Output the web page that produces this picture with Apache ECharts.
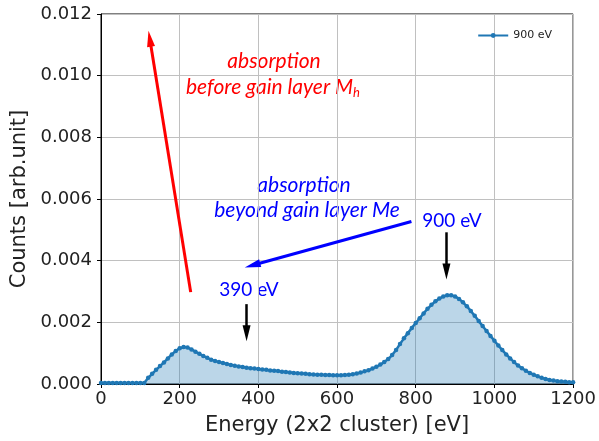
<!DOCTYPE html>
<html>
<head>
<meta charset="utf-8">
<script src="https://cdn.jsdelivr.net/npm/echarts@6/dist/echarts.min.js"></script>
<style>
  html, body { margin: 0; padding: 0; background: #fff; }
  #chart { width: 599px; height: 441px; }
</style>
</head>
<body>
<div id="chart"></div>
<script type="text/javascript">
    // energy bins [eV]
    var energies = [
        0, 10, 20, 30, 40, 50, 60, 70, 80, 90, 100, 110,
        120, 130, 140, 150, 160, 170, 180, 190, 200, 210, 220, 230,
        240, 250, 260, 270, 280, 290, 300, 310, 320, 330, 340, 350,
        360, 370, 380, 390, 400, 410, 420, 430, 440, 450, 460, 470,
        480, 490, 500, 510, 520, 530, 540, 550, 560, 570, 580, 590,
        600, 610, 620, 630, 640, 650, 660, 670, 680, 690, 700, 710,
        720, 730, 740, 750, 760, 770, 780, 790, 800, 810, 820, 830,
        840, 850, 860, 870, 880, 890, 900, 910, 920, 930, 940, 950,
        960, 970, 980, 990, 1000, 1010, 1020, 1030, 1040, 1050, 1060, 1070,
        1080, 1090, 1100, 1110, 1120, 1130, 1140, 1150, 1160, 1170, 1180, 1190,
        1200
    ];
    // normalised counts, 900 eV run
    var counts900 = [
        0.00003, 0.00003, 0.00003, 0.00003, 0.00003, 0.00003, 0.00003, 0.00003, 0.00003, 0.00003, 0.00003, 0.00003,
        0.00020, 0.00033, 0.00046, 0.00058, 0.00070, 0.00083, 0.00096, 0.00107, 0.00116, 0.00120, 0.00118, 0.00112,
        0.00105, 0.00098, 0.00091, 0.00085, 0.00079, 0.00075, 0.00071, 0.00068, 0.00065, 0.00062, 0.00059, 0.00057,
        0.00055, 0.00053, 0.00051, 0.00050, 0.00049, 0.00047, 0.00046, 0.00044, 0.00043, 0.00042, 0.00040, 0.00039,
        0.00037, 0.00036, 0.00035, 0.00034, 0.00033, 0.00032, 0.00031, 0.00030, 0.00030, 0.00029, 0.00029, 0.00028,
        0.00028, 0.00028, 0.00029, 0.00030, 0.00032, 0.00034, 0.00037, 0.00041, 0.00045, 0.00050, 0.00056, 0.00063,
        0.00071, 0.00081, 0.00094, 0.00110, 0.00130, 0.00148, 0.00165, 0.00182, 0.00198, 0.00213, 0.00229, 0.00244,
        0.00257, 0.00268, 0.00277, 0.00284, 0.00288, 0.00288, 0.00284, 0.00276, 0.00265, 0.00252, 0.00237, 0.00221,
        0.00204, 0.00188, 0.00172, 0.00156, 0.00140, 0.00125, 0.00110, 0.00096, 0.00083, 0.00071, 0.00060, 0.00051,
        0.00043, 0.00036, 0.00030, 0.00025, 0.00020, 0.00016, 0.00013, 0.00011, 0.00009, 0.00008, 0.00007, 0.00006,
        0.00006
    ];
    var xTicks = [0, 200, 400, 600, 800, 1000, 1200];
    var yTicks = [0.000, 0.002, 0.004, 0.006, 0.008, 0.010, 0.012];

    var seriesData = energies.map(function (e, i) { return [e, counts900[i]]; });

    var tickFont = 'DejaVu Sans';
    var noteFont = 'Lato, "Open Sans", sans-serif';

    var myChart = echarts.init(document.getElementById('chart'));
    var option = {
        animation: false,
        backgroundColor: '#fff',
        grid: {
            left: 101, right: 25, top: 14, bottom: 56,
            show: true, borderColor: '#000', borderWidth: 1
        },
        legend: {
            data: ['900 eV'],
            right: 42, top: 25,
            itemWidth: 30, itemHeight: 6, itemGap: 8,
            textStyle: { fontFamily: tickFont, fontSize: 11, color: '#222' }
        },
        xAxis: {
            type: 'value',
            min: xTicks[0], max: xTicks[xTicks.length - 1], interval: 200,
            name: 'Energy (2x2 cluster) [eV]',
            nameLocation: 'middle', nameGap: 31,
            nameTextStyle: { fontFamily: tickFont, fontSize: 21, color: '#222' },
            axisLine: { lineStyle: { color: '#000' } },
            axisTick: { show: true, length: 4, lineStyle: { color: '#000' } },
            axisLabel: {
                fontFamily: tickFont, fontSize: 18, color: '#222', margin: 6,
                formatter: function (v) { return String(v); }
            },
            splitLine: { show: true, lineStyle: { color: '#c0c0c0', width: 1 } }
        },
        yAxis: {
            type: 'value',
            min: yTicks[0], max: yTicks[yTicks.length - 1], interval: 0.002,
            name: 'Counts [arb.unit]',
            nameLocation: 'middle', nameGap: 68,
            nameTextStyle: { fontFamily: tickFont, fontSize: 21, color: '#222' },
            axisLine: { show: true, lineStyle: { color: '#000' } },
            axisTick: { show: true, length: 4, lineStyle: { color: '#000' } },
            axisLabel: {
                fontFamily: tickFont, fontSize: 18, color: '#222', margin: 9,
                formatter: function (v) { return v.toFixed(3); }
            },
            splitLine: { show: true, lineStyle: { color: '#c0c0c0', width: 1 } }
        },
        series: [
            {
                name: '900 eV',
                type: 'line',
                data: seriesData,
                symbol: 'circle',
                symbolSize: 4.5,
                showSymbol: true,
                color: '#1f77b4',
                lineStyle: { color: '#1f77b4', width: 2.5 },
                itemStyle: { color: '#1f77b4' },
                areaStyle: { color: 'rgba(31,119,180,0.3)', opacity: 1 },
                markLine: {
                    silent: true,
                    animation: false,
                    label: { show: false },
                    symbol: ['none', 'triangle'],
                    data: [
                        [
                            { coord: [228, 0.00298], lineStyle: { color: '#ff0000', width: 3, type: 'solid' }, symbolSize: [13, 20] },
                            { coord: [124, 0.01120] }
                        ],
                        [
                            { coord: [789, 0.00527], lineStyle: { color: '#0000ff', width: 3, type: 'solid' }, symbolSize: [13, 18] },
                            { coord: [385, 0.00385] }
                        ],
                        [
                            { coord: [878, 0.00492], lineStyle: { color: '#000', width: 2.5, type: 'solid' }, symbolSize: [12, 15] },
                            { coord: [878, 0.00365] }
                        ],
                        [
                            { coord: [370, 0.00259], lineStyle: { color: '#000', width: 2.5, type: 'solid' }, symbolSize: [12, 15] },
                            { coord: [370, 0.00165] }
                        ]
                    ]
                }
            }
        ],
        graphic: [
            {
                type: 'text', x: 274, y: 61,
                style: { text: 'absorption', fill: '#ff0000', font: 'italic 21px ' + noteFont, textAlign: 'center', textVerticalAlign: 'middle' }
            },
            {
                type: 'text', x: 186, y: 87,
                style: {
                    text: '{a|before gain layer M}{s|h}',
                    fill: '#ff0000', textVerticalAlign: 'middle',
                    rich: {
                        a: { fontFamily: noteFont, fontStyle: 'italic', fontSize: 21, fill: '#ff0000', color: '#ff0000' },
                        s: { fontFamily: noteFont, fontStyle: 'italic', fontSize: 13, fill: '#ff0000', color: '#ff0000', padding: [12, 0, 0, 0] }
                    }
                }
            },
            {
                type: 'text', x: 304, y: 185,
                style: { text: 'absorption', fill: '#0000ff', font: 'italic 21px ' + noteFont, textAlign: 'center', textVerticalAlign: 'middle' }
            },
            {
                type: 'text', x: 307, y: 210,
                style: { text: 'beyond gain layer Me', fill: '#0000ff', font: 'italic 21px ' + noteFont, textAlign: 'center', textVerticalAlign: 'middle' }
            },
            {
                type: 'text', x: 452, y: 221,
                style: { text: '900 eV', fill: '#0000ff', font: '19px ' + noteFont, textAlign: 'center', textVerticalAlign: 'middle' }
            },
            {
                type: 'text', x: 249, y: 290,
                style: { text: '390 eV', fill: '#0000ff', font: '19px ' + noteFont, textAlign: 'center', textVerticalAlign: 'middle' }
            }
        ]
    };
    myChart.setOption(option);
</script>
</body>
</html>
